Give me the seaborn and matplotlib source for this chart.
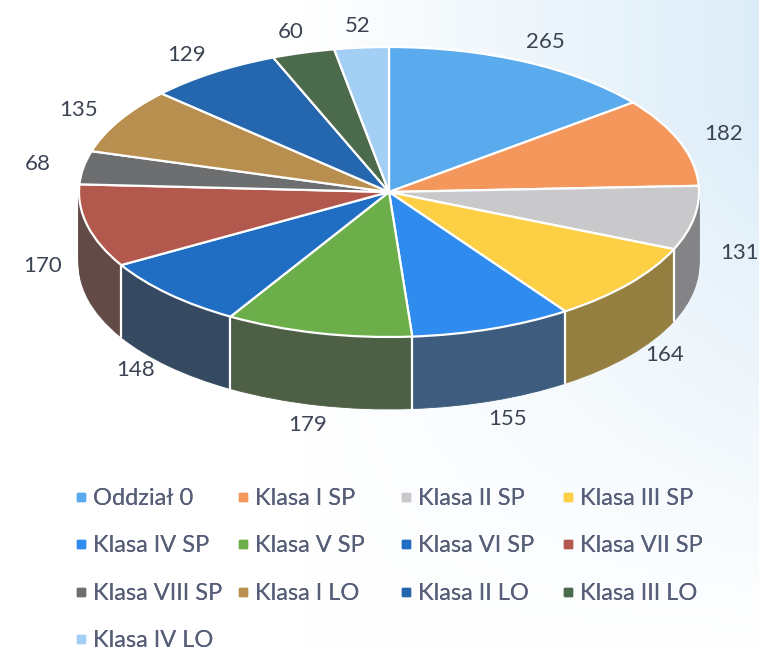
import numpy as np
import colorsys
import matplotlib
matplotlib.use("Agg")
import matplotlib.pyplot as plt
import matplotlib.colors as mcolors
from matplotlib.lines import Line2D
import seaborn as sns

# ---------------- data ----------------
categories = ["Oddział 0", "Klasa I SP", "Klasa II SP", "Klasa III SP",
              "Klasa IV SP", "Klasa V SP", "Klasa VI SP", "Klasa VII SP",
              "Klasa VIII SP", "Klasa I LO", "Klasa II LO", "Klasa III LO",
              "Klasa IV LO"]
values = [265, 182, 131, 164, 155, 179, 148, 170, 68, 135, 129, 60, 52]
colors = ["#5AAAEE", "#F4975C", "#C9C9CB", "#FDCF45",
          "#2F8CEE", "#6BAE4A", "#1F6EC4", "#B3584C",
          "#6D6E70", "#B98F50", "#2467AE", "#4C6B4C",
          "#A3CFF5"]

# ---------------- style ----------------
sns.set_theme(style="white")
plt.rcParams['font.family'] = ['Lato', 'DejaVu Sans']

W, H = 759, 651
fig = plt.figure(figsize=(W / 100, H / 100), dpi=100)

# soft background gradient (white -> pale blue on the right)
bg = fig.add_axes([0, 0, 1, 1], zorder=0)
gx = np.clip((np.linspace(0, 1, 300) - 0.4) / 0.6, 0, 1)
gy = np.clip(np.linspace(0, 1, 200) * 1.2, 0, 1)
g = np.outer(gy, gx)
white = np.array([1.0, 1.0, 1.0])
blue = np.array(mcolors.to_rgb("#DDEDF8"))
img = white[None, None, :] * (1 - g[..., None]) + blue[None, None, :] * g[..., None]
bg.imshow(img, aspect='auto', extent=[0, 1, 0, 1], origin='lower')
bg.axis('off')

# ---------------- pseudo-3D pie ----------------
cx, cy, rx, ry, depth_px = 389, 192, 310, 145, 72
depth = depth_px / ry
ax = fig.add_axes([0, 0, 1, 1], zorder=1)
ax.patch.set_alpha(0)


def side_shade(c):
    r, g_, b = mcolors.to_rgb(c)
    h, l, s = colorsys.rgb_to_hls(r, g_, b)
    return colorsys.hls_to_rgb(h, l * 0.66, s * 0.4)


side_colors = [side_shade(c) for c in colors]
n_layers = 40
for k in range(n_layers, 0, -1):
    off = depth * k / n_layers
    ax.pie(values, colors=side_colors, startangle=90, counterclock=False,
           center=(0, -off), radius=1,
           wedgeprops=dict(linewidth=0.6))
    for w in ax.patches[-len(values):]:
        w.set_edgecolor(w.get_facecolor())

wedges, _ = ax.pie(values, colors=colors, startangle=90, counterclock=False,
                   center=(0, 0), radius=1,
                   wedgeprops=dict(edgecolor='white', linewidth=1.6))

# white separators on the visible side
bounds = set()
for w in wedges:
    bounds.add(round(w.theta1 % 360, 4))
    bounds.add(round(w.theta2 % 360, 4))
for t in bounds:
    tr = np.deg2rad(t)
    if np.sin(tr) < -0.02:
        x0, y0 = np.cos(tr), np.sin(tr)
        ax.plot([x0, x0], [y0, y0 - depth], color='white', lw=1.6, zorder=5)

# value labels
for w, v in zip(wedges, values):
    mid = np.deg2rad((w.theta1 + w.theta2) / 2)
    s = np.sin(mid)
    lx = 1.15 * np.cos(mid)
    ly = 1.15 * s
    if s < 0:
        ly -= depth * np.sqrt(-s)
    ax.text(lx, ly, str(v), ha='center', va='center', fontsize=16,
            color='#3C4454', zorder=6)

ax.set_xlim(-cx / rx, (W - cx) / rx)
ax.set_ylim((cy - H) / ry, cy / ry)
ax.set_aspect('auto')
ax.axis('off')

# ---------------- legend (row-wise, 4 columns) ----------------
handles = [Line2D([0], [0], marker='s', linestyle='', markersize=6,
                  markerfacecolor=c, markeredgecolor=c) for c in colors]
col_x = [74, 236, 399, 561]
for c in range(4):
    leg = fig.legend(handles[c::4], categories[c::4], loc='upper left',
                     bbox_to_anchor=(col_x[c] / W, 1 - 488 / H),
                     frameon=False, fontsize=17, labelcolor='#575E78',
                     handletextpad=0.2, handlelength=0.6,
                     labelspacing=1.12, borderaxespad=0, borderpad=0)
    fig.add_artist(leg)

fig.savefig("out.png", dpi=100)
